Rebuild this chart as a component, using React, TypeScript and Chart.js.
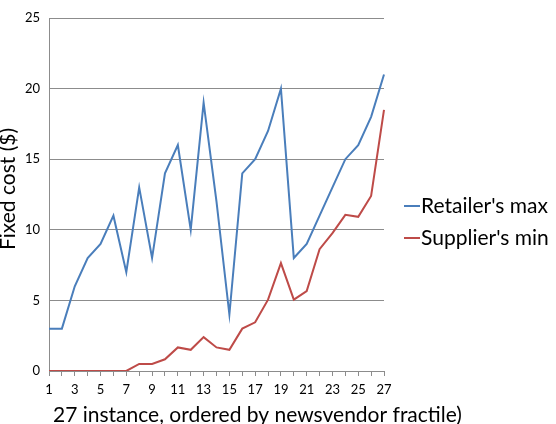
import React, { useEffect, useRef } from "react";
import { Chart, registerables } from "chart.js";

Chart.register(...registerables);

const instances = ["1","2","3","4","5","6","7","8","9","10","11","12","13","14","15","16","17","18","19","20","21","22","23","24","25","26","27"];
const retailerMax = [3, 3, 6, 8, 9, 11, 7, 13, 8, 14, 16, 10, 19, 12, 4, 14, 15, 17, 20, 8, 9, 11, 13, 15, 16, 18, 21];
const supplierMin = [0, 0, 0, 0, 0, 0, 0, 0.5, 0.5, 0.83, 1.67, 1.5, 2.4, 1.67, 1.5, 3.0, 3.45, 5.05, 7.64, 5.05, 5.66, 8.63, 9.76, 11.06, 10.92, 12.4, 18.5];
const seriesNames = ["Retailer's max", "Supplier's min"];
const seriesColors = ["#4A7EBB", "#BE4B48"];
const xTitle = "27 instance, ordered by newsvendor fractile)";
const yTitle = "Fixed cost ($)";

const FONT = "Lato, 'Liberation Sans', sans-serif";

const textPlugin = {
  id: "customText",
  afterDraw(chart: any) {
    const ctx = chart.ctx;
    ctx.save();
    ctx.fillStyle = "#000";
    ctx.font = `21px ${FONT}`;
    // x title
    ctx.textAlign = "left";
    ctx.textBaseline = "alphabetic";
    ctx.fillText(xTitle, 53, 422);
    // y title
    ctx.save();
    ctx.translate(15, 189);
    ctx.rotate(-Math.PI / 2);
    ctx.textAlign = "center";
    ctx.fillText(yTitle, 0, 0);
    ctx.restore();
    // legend
    const ys = [206, 238];
    seriesNames.forEach((name, i) => {
      ctx.strokeStyle = seriesColors[i];
      ctx.lineWidth = 2;
      ctx.beginPath();
      ctx.moveTo(404, ys[i]);
      ctx.lineTo(420, ys[i]);
      ctx.stroke();
      ctx.textBaseline = "middle";
      ctx.textAlign = "left";
      ctx.fillText(name, 421, ys[i]);
    });
    ctx.restore();
  },
};

export default function App() {
  const ref = useRef<HTMLCanvasElement>(null);
  useEffect(() => {
    const chart = new Chart(ref.current!, {
      type: "line",
      data: {
        labels: instances,
        datasets: [
          { label: seriesNames[0], data: retailerMax, borderColor: seriesColors[0], backgroundColor: seriesColors[0], borderWidth: 2, pointRadius: 0, tension: 0 },
          { label: seriesNames[1], data: supplierMin, borderColor: seriesColors[1], backgroundColor: seriesColors[1], borderWidth: 2, pointRadius: 0, tension: 0 },
        ],
      },
      options: {
        animation: false,
        responsive: false,
        layout: { padding: { left: 0, top: 18, right: 172, bottom: 0 } },
        plugins: { legend: { display: false }, tooltip: { enabled: false } },
        scales: {
          x: {
            type: "category",
            offset: false,
            grid: { drawOnChartArea: false, drawTicks: true, tickLength: 5, color: "#8c8c8c" },
            border: { color: "#8c8c8c" },
            ticks: {
              autoSkip: false,
              maxRotation: 0,
              padding: 6,
              color: "#000",
              font: { size: 13, family: FONT },
              callback: (_v: any, i: number) => (i % 2 === 0 ? instances[i] : ""),
            },
            afterFit: (s: any) => { s.height = 53; },
          },
          y: {
            min: 0,
            max: 25,
            ticks: { stepSize: 5, padding: 9, color: "#000", font: { size: 13, family: FONT } },
            grid: { drawTicks: false, color: "#8c8c8c" },
            border: { color: "#8c8c8c" },
            afterFit: (s: any) => { s.width = 49; },
          },
        },
      },
      plugins: [textPlugin],
    });
    return () => chart.destroy();
  }, []);
  return (
    <div style={{ position: "fixed", left: 0, top: 0, width: 556, height: 424, background: "#fff" }}>
      <canvas ref={ref} width={556} height={424} style={{ width: 556, height: 424, display: "block" }} />
    </div>
  );
}
